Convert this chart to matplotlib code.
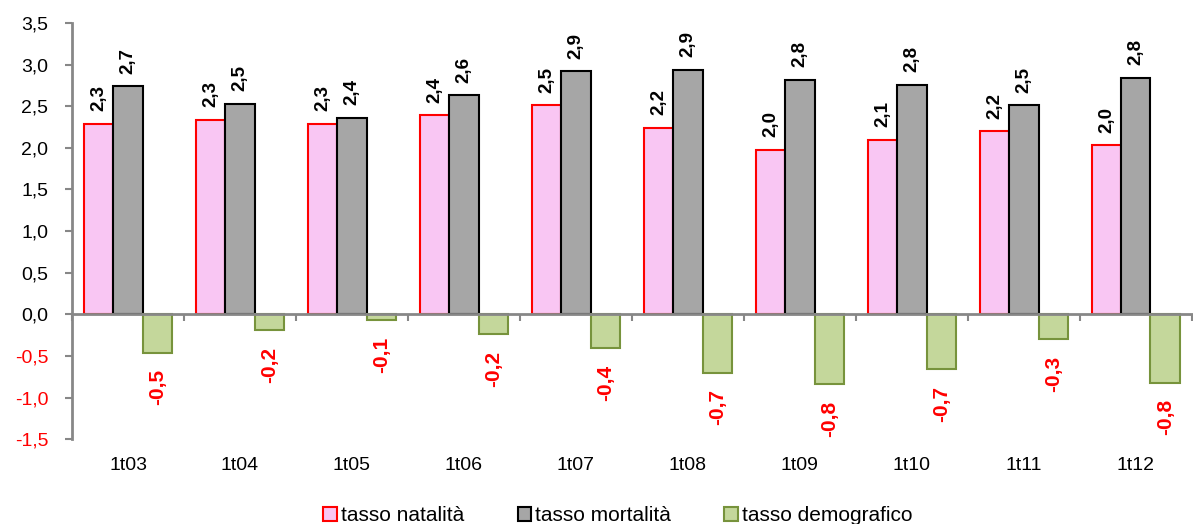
import matplotlib
matplotlib.use("Agg")
import matplotlib.pyplot as plt
import numpy as np
from matplotlib.patches import Patch

plt.rcParams['font.family'] = ['Liberation Sans', 'DejaVu Sans']

categories = ["1t03", "1t04", "1t05", "1t06", "1t07", "1t08", "1t09", "1t10", "1t11", "1t12"]
natalita = [2.29, 2.34, 2.29, 2.39, 2.51, 2.24, 1.98, 2.10, 2.20, 2.03]
mortalita = [2.74, 2.53, 2.36, 2.63, 2.92, 2.94, 2.82, 2.76, 2.51, 2.84]
demografico = [-0.46, -0.19, -0.07, -0.24, -0.41, -0.70, -0.84, -0.66, -0.30, -0.82]
series_names = ["tasso natalità", "tasso mortalità", "tasso demografico"]
yticks = [-1.5, -1.0, -0.5, 0.0, 0.5, 1.0, 1.5, 2.0, 2.5, 3.0, 3.5]

fig = plt.figure(figsize=(11.93, 5.24), dpi=100)
ax = fig.add_axes([0.0604, 0.162, 0.9386, 0.794])

x = np.arange(len(categories))
w = 0.262
faces = ["#F9C6F3", "#A6A6A6", "#C4D79B"]
edges = ["#FF0000", "#000000", "#77933C"]
data = [natalita, mortalita, demografico]
offsets = [-w, 0, w]

for vals, off, fc, ec, name in zip(data, offsets, faces, edges, series_names):
    bars = ax.bar(x + off, vals, width=w, color=fc, edgecolor=ec, linewidth=1.5, label=name, zorder=2)
    for b, v in zip(bars, vals):
        txt = f"{v:.1f}".replace(".", ",")
        cx = b.get_x() + b.get_width() / 2
        if v >= 0:
            ax.annotate(txt, (cx, v), xytext=(0, 9), textcoords="offset points",
                        rotation=90, ha="center", va="bottom", fontsize=13.5,
                        fontweight="bold", color="black")
        else:
            ax.annotate(txt, (cx, v), xytext=(0, -12), textcoords="offset points",
                        rotation=90, ha="center", va="top", fontsize=15,
                        fontweight="bold", color="#FF0000")

ax.set_xlim(-0.5, len(categories) - 0.5)
ax.set_ylim(-1.5, 3.5)
ax.set_yticks(yticks)
ax.set_yticklabels([f"{t:.1f}".replace(".", ",") for t in yticks], fontsize=14)
for lab, t in zip(ax.get_yticklabels(), yticks):
    lab.set_color("#FF0000" if t < 0 else "black")

axis_col = "#878787"
for s in ["top", "right"]:
    ax.spines[s].set_visible(False)
ax.spines["left"].set_color(axis_col)
ax.spines["left"].set_linewidth(2)
ax.spines["bottom"].set_position(("data", 0))
ax.spines["bottom"].set_color(axis_col)
ax.spines["bottom"].set_linewidth(2)
ax.tick_params(axis="y", direction="out", length=5, width=1.5, color=axis_col, pad=12)

ax.set_xticks(x)
ax.tick_params(axis="x", which="major", length=0, labelbottom=False)
ax.set_xticks(np.arange(len(categories) + 1) - 0.5, minor=True)
ax.tick_params(axis="x", which="minor", direction="out", length=5, width=1.5, color=axis_col)

sec = ax.secondary_xaxis("bottom")
sec.set_xticks(x)
sec.set_xticklabels(categories, fontsize=14)
sec.tick_params(length=0, pad=13)
sec.spines["bottom"].set_visible(False)

handles = [Patch(facecolor=fc, edgecolor=ec, linewidth=1.5) for fc, ec in zip(faces, edges)]
fig.legend(handles, series_names, loc="center", bbox_to_anchor=(0.518, 0.016), ncol=3,
           frameon=False, fontsize=15, handlelength=0.65, handleheight=0.65,
           handletextpad=0.2, columnspacing=2.55)

fig.savefig("out.png", dpi=100)
